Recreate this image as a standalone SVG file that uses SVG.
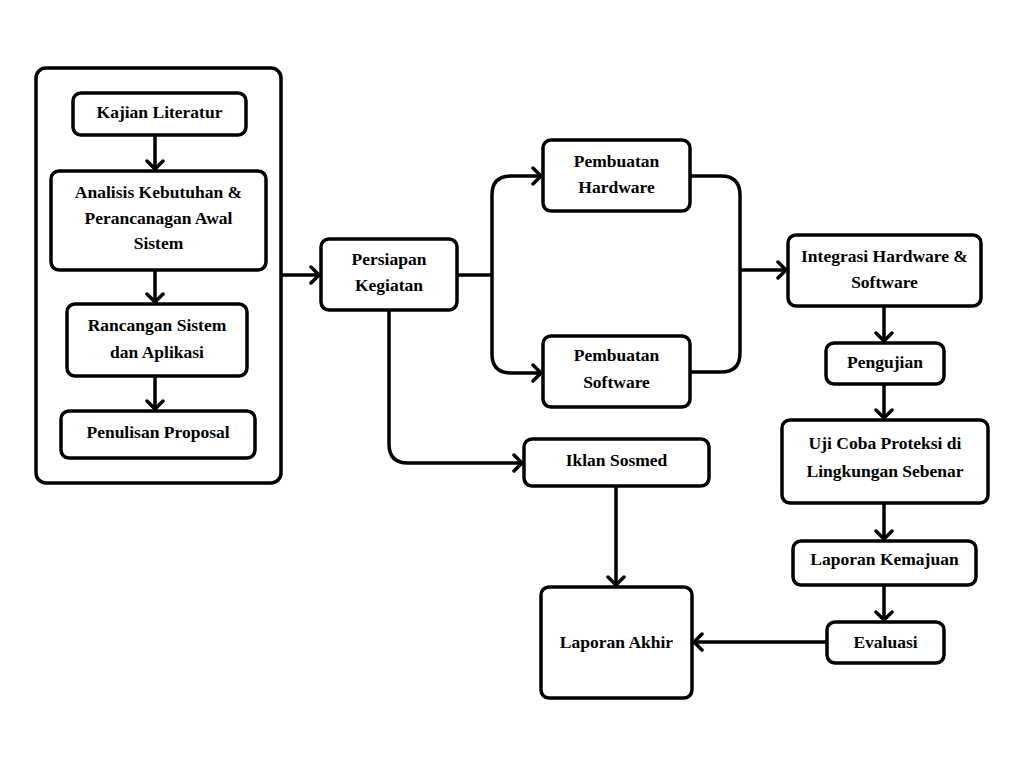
<svg xmlns="http://www.w3.org/2000/svg" width="1024" height="768" viewBox="0 0 1024 768">
  <defs>
    <style>
      .box { fill: #fff; stroke: #000; stroke-width: 3.5; }
      .lbl { font-family: "Liberation Serif", "Times New Roman", serif; font-weight: bold; font-size: 17.5px; fill: #000; text-anchor: middle; }
      .wire { fill: none; stroke: #000; stroke-width: 3.5; }
    </style>
    <marker id="head" markerUnits="userSpaceOnUse" markerWidth="20" markerHeight="20" refX="11" refY="10" orient="auto">
      <path d="M3,2 L11,10 L3,18" fill="none" stroke="#000" stroke-width="3.5" stroke-linecap="round" stroke-linejoin="round"/>
    </marker>
  </defs>
  <rect width="1024" height="768" fill="#fff"/>

  <!-- outer container for the preparation stage -->
  <g id="tahap-awal">
    <rect class="box" x="36" y="68" width="245" height="415" rx="10"/>
  </g>

  <g id="kajian">
    <rect class="box" x="73" y="93" width="173" height="42" rx="8"/>
    <text class="lbl" x="159.5" y="118">Kajian Literatur</text>
  </g>
  <g id="analisis">
    <rect class="box" x="51" y="171" width="215" height="99" rx="8"/>
    <text class="lbl" x="158.5" y="198">Analisis Kebutuhan &amp;</text>
    <text class="lbl" x="158.5" y="224">Perancanagan Awal</text>
    <text class="lbl" x="158.5" y="249">Sistem</text>
  </g>
  <g id="rancangan">
    <rect class="box" x="67" y="304" width="180" height="72" rx="8"/>
    <text class="lbl" x="157" y="331">Rancangan Sistem</text>
    <text class="lbl" x="157" y="358">dan Aplikasi</text>
  </g>
  <g id="proposal">
    <rect class="box" x="61" y="411" width="194" height="47" rx="8"/>
    <text class="lbl" x="158" y="438">Penulisan Proposal</text>
  </g>

  <g id="persiapan">
    <rect class="box" x="321" y="239" width="136" height="71" rx="8"/>
    <text class="lbl" x="389" y="265">Persiapan</text>
    <text class="lbl" x="389" y="291">Kegiatan</text>
  </g>
  <g id="hardware">
    <rect class="box" x="543" y="140" width="147" height="71" rx="8"/>
    <text class="lbl" x="616.5" y="167">Pembuatan</text>
    <text class="lbl" x="616.5" y="193">Hardware</text>
  </g>
  <g id="software">
    <rect class="box" x="543" y="336" width="147" height="71" rx="8"/>
    <text class="lbl" x="616.5" y="361">Pembuatan</text>
    <text class="lbl" x="616.5" y="388">Software</text>
  </g>
  <g id="iklan">
    <rect class="box" x="524" y="439" width="185" height="47" rx="8"/>
    <text class="lbl" x="616.5" y="466">Iklan Sosmed</text>
  </g>
  <g id="laporan-akhir">
    <rect class="box" x="541" y="587" width="151" height="111" rx="8"/>
    <text class="lbl" x="616.5" y="648">Laporan Akhir</text>
  </g>

  <g id="integrasi">
    <rect class="box" x="788" y="235" width="193" height="71" rx="8"/>
    <text class="lbl" x="884.5" y="262">Integrasi Hardware &amp;</text>
    <text class="lbl" x="884.5" y="288">Software</text>
  </g>
  <g id="pengujian">
    <rect class="box" x="826" y="343" width="118" height="41" rx="8"/>
    <text class="lbl" x="885" y="368">Pengujian</text>
  </g>
  <g id="uji-coba">
    <rect class="box" x="782" y="420" width="206" height="83" rx="8"/>
    <text class="lbl" x="885" y="449">Uji Coba Proteksi di</text>
    <text class="lbl" x="885" y="477">Lingkungan Sebenar</text>
  </g>
  <g id="kemajuan">
    <rect class="box" x="793" y="541" width="183" height="44" rx="8"/>
    <text class="lbl" x="884.5" y="565">Laporan Kemajuan</text>
  </g>
  <g id="evaluasi">
    <rect class="box" x="827" y="622" width="117" height="41" rx="8"/>
    <text class="lbl" x="885.5" y="648">Evaluasi</text>
  </g>

  <g id="connectors">
    <path class="wire" d="M155,135 V169" marker-end="url(#head)"/>
    <path class="wire" d="M155,270 V302" marker-end="url(#head)"/>
    <path class="wire" d="M155,376 V409" marker-end="url(#head)"/>
    <path class="wire" d="M281,275 H319" marker-end="url(#head)"/>

    <path class="wire" d="M457,275 H492"/>
    <path class="wire" d="M492,275 V195 Q492,176 511,176 H541" marker-end="url(#head)"/>
    <path class="wire" d="M492,275 V354 Q492,373 511,373 H541" marker-end="url(#head)"/>

    <path class="wire" d="M690,176 H721 Q740,176 740,195 V353 Q740,372 721,372 H690"/>
    <path class="wire" d="M740,270 H786" marker-end="url(#head)"/>

    <path class="wire" d="M389,310 V444 Q389,463 408,463 H522" marker-end="url(#head)"/>
    <path class="wire" d="M616,486 V585" marker-end="url(#head)"/>

    <path class="wire" d="M884,306 V341" marker-end="url(#head)"/>
    <path class="wire" d="M884,384 V418" marker-end="url(#head)"/>
    <path class="wire" d="M884,503 V539" marker-end="url(#head)"/>
    <path class="wire" d="M884,585 V620" marker-end="url(#head)"/>
    <path class="wire" d="M827,642 H694" marker-end="url(#head)"/>
  </g>
</svg>
